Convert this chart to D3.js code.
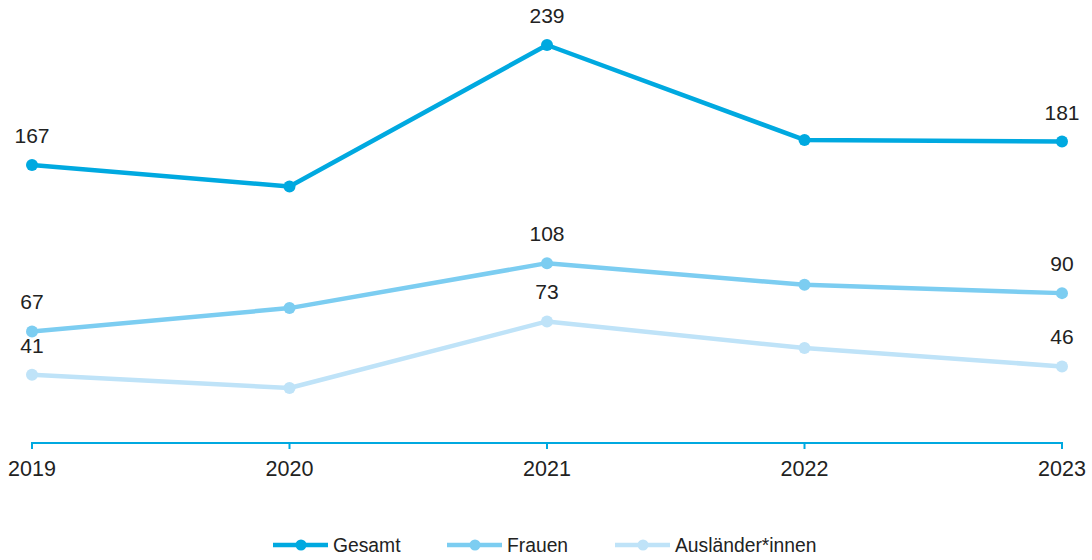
<!DOCTYPE html>
<html><head><meta charset="utf-8">
<script src="https://cdn.jsdelivr.net/npm/d3@7"></script>
<style>body{margin:0;background:#fff;} text{font-family:"Liberation Sans",Arial,sans-serif;fill:#222;}</style>
</head><body>
<svg id="c" width="1092" height="560"></svg>
<script>
const years = ["2019","2020","2021","2022","2023"];
const gesamt = [167,154,239,182,181];
const frauen = [67,81,108,95,90];
const auslaender = [41,33,73,57,46];
const seriesNames = ["Gesamt","Frauen","Ausländer*innen"];
const colors = ["#00a9e0","#7ccdf1","#bfe3f8"];
const labelIdx = [0,2,4];

const svg = d3.select("#c");
const x = d3.scalePoint().domain(years).range([32,1062]);
const y = d3.scaleLinear().domain([0,239]).range([443,45]);

// axis
const ax = svg.append("g").attr("transform","translate(0,443)");
ax.append("line").attr("x1",31).attr("x2",1063).attr("stroke","#00a9e0").attr("stroke-width",2);
years.forEach(yr=>{
  ax.append("line").attr("x1",x(yr)).attr("x2",x(yr)).attr("y1",0).attr("y2",6).attr("stroke","#00a9e0").attr("stroke-width",2);
  ax.append("text").attr("x",x(yr)).attr("y",33).attr("text-anchor","middle").attr("font-size",21.5).text(yr);
});

const data = [gesamt,frauen,auslaender];
const line = d3.line().x((d,i)=>x(years[i])).y(d=>y(d));
data.slice().reverse().forEach((vals,ri)=>{
  const si = data.length-1-ri;
  const g = svg.append("g");
  g.append("path").attr("d",line(vals)).attr("fill","none").attr("stroke",colors[si]).attr("stroke-width",4.5).attr("stroke-linejoin","round");
  g.selectAll("circle").data(vals).join("circle").attr("cx",(d,i)=>x(years[i])).attr("cy",d=>y(d)).attr("r",6).attr("fill",colors[si]);
  g.selectAll("text").data(labelIdx).join("text").attr("x",i=>x(years[i])).attr("y",i=>y(vals[i])-22).attr("text-anchor","middle").attr("font-size",21).text(i=>vals[i]);
});

// legend
const lx = [273,447,615];
seriesNames.forEach((n,i)=>{
  const g = svg.append("g").attr("transform",`translate(${lx[i]},545)`);
  g.append("line").attr("x1",0).attr("x2",55).attr("stroke",colors[i]).attr("stroke-width",4.5);
  g.append("circle").attr("cx",28).attr("r",5.5).attr("fill",colors[i]);
  g.append("text").attr("x",60).attr("y",7).attr("font-size",19.3).text(n);
});
</script>
</body></html>
